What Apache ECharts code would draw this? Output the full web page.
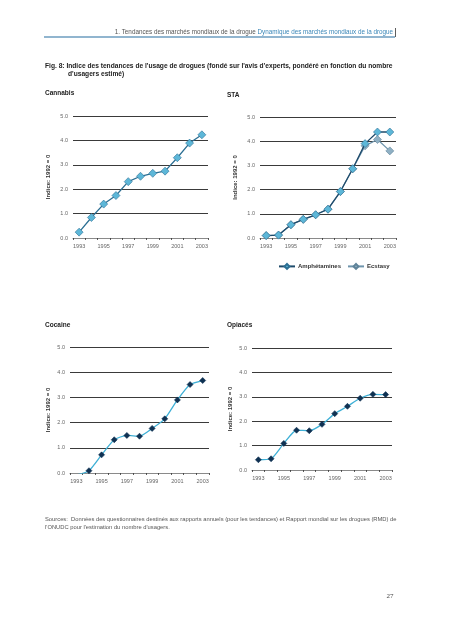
<!DOCTYPE html>
<html><head><meta charset="utf-8">
<script src="https://cdn.jsdelivr.net/npm/echarts@6/dist/echarts.min.js"></script>
<style>html,body{margin:0;padding:0;background:#fff}#c{width:453px;height:640px}</style>
</head><body><div id="c"></div>
<script>
// ---- data ----
const years = ['1993','1994','1995','1996','1997','1998','1999','2000','2001','2002','2003'];
const yTicks = [0, 1, 2, 3, 4, 5];
const cannabis = [0.24, 0.84, 1.39, 1.74, 2.31, 2.53, 2.65, 2.74, 3.29, 3.89, 4.23];
const amphetamines = [0.10, 0.12, 0.55, 0.77, 0.96, 1.19, 1.92, 2.86, 3.90, 4.38, 4.38];
const ecstasy = [0.10, 0.12, 0.55, 0.77, 0.96, 1.19, 1.92, 2.86, 3.81, 4.07, 3.60];
const cocaine = [-0.08, 0.09, 0.72, 1.32, 1.49, 1.46, 1.77, 2.15, 2.90, 3.51, 3.67];
const opiates = [0.42, 0.46, 1.09, 1.63, 1.61, 1.87, 2.31, 2.61, 2.94, 3.10, 3.09];
const panelTitles = ['Cannabis', 'STA', 'Cocaine', 'Opiacés'];
const yName = 'Indice: 1992 = 0';

const FONT = 'Liberation Sans';
const chart = echarts.init(document.getElementById('c'), null, {renderer: 'canvas'});

const grids = [
  {left: 73, top: 116, width: 135, height: 122},
  {left: 260, top: 117, width: 136, height: 121},
  {left: 70, top: 347, width: 139, height: 126},
  {left: 252, top: 348, width: 140, height: 122}
];
const nameGaps = [22, 22, 19, 19];

const xAxes = grids.map((g, i) => ({
  type: 'category', gridIndex: i, data: years, boundaryGap: true,
  axisLine: {show: true, lineStyle: {color: '#8a8a8a', width: 1}},
  axisTick: {show: true, interval: 0, length: 2, lineStyle: {color: '#333', width: 0.8}},
  axisLabel: {interval: 1, fontSize: 5.5, color: '#666', margin: 5, fontFamily: FONT},
  splitLine: {show: false}
}));
const yAxes = grids.map((g, i) => ({
  type: 'value', gridIndex: i, min: yTicks[0], max: yTicks[yTicks.length - 1], interval: 1,
  name: yName, nameLocation: 'middle', nameGap: nameGaps[i], nameRotate: 90,
  nameTextStyle: {fontSize: 6, fontWeight: 'bold', color: '#333', fontFamily: FONT},
  axisLine: {show: false}, axisTick: {show: false},
  axisLabel: {fontSize: 5.5, color: '#666', margin: 5, fontFamily: FONT, formatter: v => v.toFixed(1)},
  splitLine: {show: true, lineStyle: {color: '#3a3a3a', width: 1}}
}));

function lineSeries(name, idx, data, lineColor, markColor, borderColor, z, size, smooth) {
  return {
    name, type: 'line', xAxisIndex: idx, yAxisIndex: idx, data,
    symbol: 'diamond', symbolSize: size, showSymbol: true, smooth: smooth || false,
    clip: true, z,
    lineStyle: {color: lineColor, width: 1.3},
    itemStyle: {color: markColor, borderColor: borderColor, borderWidth: 0.6},
    emphasis: {disabled: true}
  };
}

const series = [
  lineSeries('Cannabis', 0, cannabis, '#2c6f93', '#5db7d8', '#2c6f93', 3, 8),
  lineSeries('Ecstasy', 1, ecstasy, '#6f95ad', '#8fb0c4', '#5f8399', 2, 8),
  lineSeries('Amphétamines', 1, amphetamines, '#1f4b6b', '#5db7d8', '#2c6f93', 3, 8),
  lineSeries('Cocaine', 2, cocaine, '#3fb0d6', '#0f3152', '#0f3152', 3, 6, 0.2),
  lineSeries('Opiacés', 3, opiates, '#3fb0d6', '#0f3152', '#0f3152', 3, 6, 0.2)
];

const txt = (x, y, text, size, weight, color, align, family) => ({
  type: 'text', x, y, silent: true,
  style: {text, fontSize: size, fontWeight: weight || 'normal', fill: color || '#222',
    align: align || 'left', verticalAlign: 'middle', fontFamily: family || FONT}
});

const graphic = [
  {type: 'text', x: 393, y: 32, silent: true, style: {
    text: '{a|1. Tendances des marchés mondiaux de la drogue }{b|Dynamique des marchés mondiaux de la drogue}',
    align: 'right', verticalAlign: 'middle',
    rich: {a: {fontSize: 6.3, fill: '#555', fontFamily: FONT}, b: {fontSize: 6.3, fill: '#3b87b8', fontFamily: FONT}}
  }},
  {type: 'line', silent: true, shape: {x1: 44, y1: 37, x2: 395, y2: 37}, style: {stroke: '#6d9cbf', lineWidth: 1.5}},
  {type: 'line', silent: true, shape: {x1: 395.5, y1: 28, x2: 395.5, y2: 37}, style: {stroke: '#333', lineWidth: 0.8}},
  txt(45, 66, "Fig. 8: Indice des tendances de l'usage de drogues (fondé sur l'avis d'experts, pondéré en fonction du nombre", 6.65, 'bold', '#222'),
  txt(68, 74.5, "d'usagers estimé)", 6.65, 'bold', '#222'),
  txt(45, 93, panelTitles[0], 6.5, 'bold', '#222'),
  txt(227, 95, panelTitles[1], 6.5, 'bold', '#222'),
  txt(45, 325, panelTitles[2], 6.5, 'bold', '#222'),
  txt(227, 325, panelTitles[3], 6.5, 'bold', '#222'),
  txt(45, 519, "Sources:  Données des questionnaires destinés aux rapports annuels (pour les tendances) et Rapport mondial sur les drogues (RMD) de", 5.8, 'normal', '#555'),
  txt(45, 527, "l'ONUDC pour l'estimation du nombre d'usagers.", 5.8, 'normal', '#555'),
  txt(390, 596, '27', 7, 'normal', '#444', 'center', 'Liberation Serif')
];

chart.setOption({
  animation: false,
  backgroundColor: '#fff',
  grid: grids.map(g => Object.assign({containLabel: false}, g)),
  xAxis: xAxes,
  yAxis: yAxes,
  legend: {
    data: ['Amphétamines', 'Ecstasy'], left: 273, top: 258, orient: 'horizontal',
    itemWidth: 16, itemHeight: 6, itemGap: 6,
    textStyle: {fontSize: 6, fontWeight: 'bold', color: '#333', fontFamily: FONT, padding: [0, 0, 0, -2]},
    selectedMode: false
  },
  series,
  graphic
});
</script></body></html>
